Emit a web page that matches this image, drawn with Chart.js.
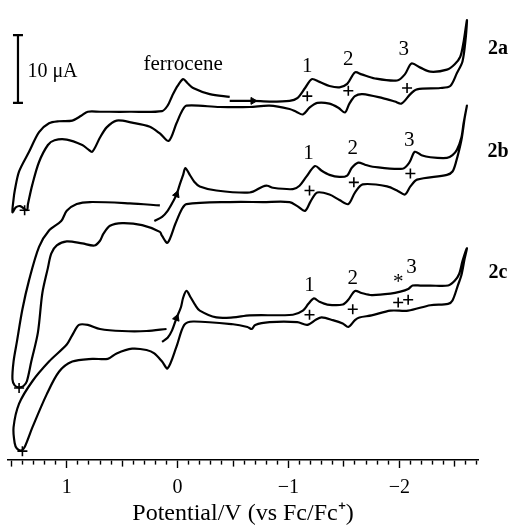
<!DOCTYPE html>
<html>
<head>
<meta charset="utf-8">
<script src="https://cdn.jsdelivr.net/npm/chart.js@4"></script>
<style>
  body { margin: 0; background: #fff; }
  #wrap { width: 510px; height: 526px; }
</style>
</head>
<body>
<div id="wrap"><canvas id="cv"></canvas></div>
<script>
// potential in V vs Fc/Fc+, current in uA (the three scans are stacked with an offset)
var potential2a = [-0.47,-0.68,-0.83,-1.01,-1.08,-1.15,-1.21,-1.28,-1.37,-1.46,-1.53,-1.60,-1.66,-1.78,-1.98,-2.05,-2.11,-2.19,-2.28,-2.43,-2.50,-2.55,-2.58,-2.61,
  -2.60,-2.57,-2.52,-2.46,-2.37,-2.16,-2.10,-2.02,-1.96,-1.85,-1.67,-1.60,-1.55,-1.51,-1.45,-1.37,-1.26,-1.19,-1.13,-1.07,-1.01,-0.83,-0.65,-0.38,-0.08,-0.04,0.01,0.08,0.16,0.25,0.41,0.55,0.64,0.70,0.77,0.81,0.86,1.00,1.11,1.17,1.25,1.31,1.35,1.36,
  1.42,1.46,1.49,1.48,1.47,1.43,1.34,1.25,1.16,1.07,0.95,0.87,0.81,0.70,0.43,0.14,0.09,0.05,0.00,-0.05,-0.09,-0.14,-0.29,-0.47];
var current2a = [52.9,52.9,52.8,52.9,53.3,54.8,56.1,55.7,55.1,54.9,55.4,57.1,56.8,56.2,55.9,56.8,58.4,57.8,57.2,57.5,58.3,59.4,61.6,64.8,
  62.3,58.7,57.0,55.1,54.8,54.6,53.9,52.5,52.8,53.3,53.9,53.6,52.5,51.2,51.9,52.5,52.6,51.9,50.9,51.3,51.7,52.2,52.0,52.0,52.2,51.4,49.6,47.0,48.1,49.1,49.7,50.0,49.0,47.5,45.4,45.8,46.4,47.2,47.1,46.4,43.9,40.6,37.7,36.8,
  37.4,37.2,36.5,38.4,39.6,42.5,45.4,48.3,49.6,49.9,50.0,50.7,51.3,51.3,51.3,51.4,52.2,53.6,55.1,56.1,55.5,54.8,53.9,53.5];

var potential2b = [0.21,0.14,0.09,0.05,0.01,-0.02,-0.05,-0.07,-0.11,-0.15,-0.20,-0.35,-0.65,-0.77,-0.81,-0.86,-1.04,-1.10,-1.16,-1.24,-1.30,-1.37,-1.46,-1.53,-1.57,-1.63,-1.69,-1.76,-2.03,-2.09,-2.14,-2.20,-2.28,-2.43,-2.48,-2.52,-2.56,-2.58,-2.61,
  -2.59,-2.56,-2.51,-2.48,-2.43,-2.16,-2.10,-2.05,-1.99,-1.89,-1.67,-1.60,-1.54,-1.46,-1.37,-1.26,-1.20,-1.15,-1.08,-1.01,-0.77,-0.47,-0.08,-0.04,0.02,0.09,0.14,0.16,0.32,0.50,0.61,0.67,0.70,0.75,0.86,1.00,1.09,1.14,1.17,1.22,1.26,1.32,1.36,1.39,
  1.43,1.47,1.49,1.48,1.45,1.40,1.34,1.25,1.16,1.05,1.00,0.91,0.79,0.43,0.16];
var current2b = [35.2,35.8,36.7,37.8,39.1,40.6,42.0,43.0,42.0,41.0,40.3,39.7,39.4,40.3,40.4,40.1,39.9,40.4,41.7,43.3,42.6,42.0,41.7,41.9,43.0,43.8,43.5,43.2,42.9,43.8,45.4,44.9,44.6,44.5,44.9,45.7,47.5,49.6,52.2,
  50.4,47.1,43.8,42.5,42.0,41.3,40.3,39.1,39.6,40.3,40.6,39.4,37.7,38.3,39.1,39.4,38.1,36.7,37.4,38.0,38.0,38.0,37.7,37.0,34.8,32.0,33.0,33.6,34.6,34.9,34.5,33.3,32.3,31.6,31.9,32.2,31.6,30.4,28.3,24.6,18.8,14.5,11.6,10.9,
  10.7,11.0,11.9,14.5,17.4,22.2,26.5,31.4,33.8,35.2,36.7,37.7,38.0,37.8,37.5];

var potential2c = [0.14,0.09,0.05,0.01,-0.03,-0.05,-0.08,-0.12,-0.16,-0.20,-0.35,-0.50,-0.65,-1.04,-1.13,-1.18,-1.23,-1.28,-1.35,-1.49,-1.54,-1.60,-1.66,-1.75,-1.92,-2.01,-2.08,-2.12,-2.19,-2.28,-2.44,-2.50,-2.54,-2.57,-2.61,
  -2.59,-2.56,-2.53,-2.48,-2.44,-2.28,-2.08,-1.92,-1.75,-1.64,-1.60,-1.54,-1.49,-1.40,-1.30,-1.25,-1.17,-1.08,-0.83,-0.70,-0.67,-0.63,-0.50,-0.14,-0.06,0.01,0.09,0.14,0.21,0.28,0.41,0.55,0.63,0.77,0.95,1.07,1.18,1.31,1.38,
  1.41,1.45,1.47,1.48,1.43,1.31,1.16,1.00,0.95,0.89,0.81,0.70,0.50,0.28,0.10];
var current2c = [17.4,18.0,19.1,20.9,22.5,23.9,24.9,23.9,22.8,22.0,21.0,21.0,21.3,21.4,22.0,23.0,23.8,23.3,22.9,22.9,23.6,24.9,24.6,24.3,24.5,24.8,25.2,25.7,25.7,25.7,25.7,26.4,27.4,29.3,31.2,
  29.7,27.2,25.8,23.5,23.0,22.8,22.0,22.0,21.3,21.0,20.6,19.6,20.1,20.6,21.0,20.7,19.9,20.3,20.3,19.9,19.3,19.6,20.0,20.4,19.9,16.7,13.5,14.5,15.7,16.2,16.4,15.7,14.9,14.9,14.5,13.0,9.7,4.8,1.9,
  1.4,1.7,2.5,4.8,8.3,11.6,14.5,17.0,18.4,19.9,19.9,19.3,19.0,19.0,19.3];

// "+" marks (half-wave potentials and switching points)
var markPotential = [-1.17,-1.54,-2.07,1.38, -1.19,-1.59,-2.10,1.43, -1.19,-1.58,-1.99,-2.08,1.40];
var markCurrent   = [53.6,54.4,54.8,36.8, 39.7,40.9,42.2,10.6, 21.4,22.2,23.2,23.6,1.3];

// scan direction arrows
var arrowPotential = [-0.68, 0.01, 0.01];
var arrowCurrent   = [52.9, 39.1, 20.9];
var arrowAngle     = [90, 20, 20];

// 10 uA scale bar
var barPotential = [1.44, 1.44];
var barCurrent   = [52.6, 62.6];

var labelText      = ['ferrocene','10 \u03bcA','1','2','3','1','2','3','1','2','3','*','2a','2b','2c'];
var labelPotential = [-0.05, 1.355, -1.17,-1.54,-2.04, -1.18,-1.58,-2.09, -1.19,-1.58,-2.11,-1.99, -2.89,-2.89,-2.89];
var labelCurrent   = [58.3, 57.2, 58.0,59.0,60.4, 45.2,45.9,47.1, 25.7,26.8,28.3,26.1, 60.6,45.4,27.5];

var tickValues = [1, 0, -1, -2];
var tickLabels = ['1', '0', '\u22121', '\u22122'];

function pts(xs, ys) {
  return xs.map(function(x, i) { return {x: x, y: ys[i]}; });
}

var serif = '"Liberation Serif", "Times New Roman", serif';

var textPlugin = {
  id: 'labels',
  afterDatasetsDraw: function(chart) {
    var ctx = chart.ctx, xs = chart.scales.x, ys = chart.scales.y;
    ctx.save();
    ctx.fillStyle = '#000';
    ctx.textBaseline = 'middle';
    labelText.forEach(function(t, i) {
      var bold = t.charAt(0) === '2' && t.length === 2;
      var scaleBar = t.indexOf('\u03bcA') > 0;
      ctx.font = (bold ? 'bold 20px ' : scaleBar ? '20px ' : '21px ') + serif;
      ctx.textAlign = scaleBar ? 'left' : 'center';
      ctx.fillText(t, xs.getPixelForValue(labelPotential[i]), ys.getPixelForValue(labelCurrent[i]));
    });
    ctx.restore();
  }
};

function curve(xs, ys) {
  return {
    data: pts(xs, ys),
    showLine: true,
    borderColor: '#000',
    borderWidth: 2.2,
    pointRadius: 0,
    tension: 0.3,
    fill: false
  };
}

var ctx = document.getElementById('cv').getContext('2d');
var myChart = new Chart(ctx, {
  type: 'scatter',
  data: {
    datasets: [
      curve(potential2a, current2a),
      curve(potential2b, current2b),
      curve(potential2c, current2c),
      {
        data: pts(markPotential, markCurrent),
        pointStyle: 'cross',
        pointRadius: 5,
        pointBorderWidth: 1.6,
        borderColor: '#000',
        showLine: false
      },
      {
        data: pts(arrowPotential, arrowCurrent),
        pointStyle: 'triangle',
        pointRadius: 4,
        pointRotation: arrowAngle,
        backgroundColor: '#000',
        borderColor: '#000',
        pointBorderWidth: 1,
        showLine: false
      },
      {
        data: pts(barPotential, barCurrent),
        showLine: true,
        borderColor: '#000',
        borderWidth: 2.2,
        pointStyle: 'line',
        pointRadius: 5,
        pointBorderWidth: 2.2,
        pointBorderColor: '#000'
      }
    ]
  },
  options: {
    responsive: true,
    maintainAspectRatio: false,
    animation: false,
    layout: {
      padding: { left: 8, right: 32, top: 0, bottom: 0 }
    },
    scales: {
      x: {
        type: 'linear',
        reverse: true,
        min: -2.71,
        max: 1.53,
        afterFit: function(scale) { scale.height = 66; },
        border: { display: true, color: '#000', width: 1.6 },
        grid: {
          drawOnChartArea: false,
          drawTicks: true,
          tickLength: 8,
          tickColor: '#000',
          tickWidth: 1.4,
          tickBorderDash: function(c) {
            var v = c.tick ? c.tick.value : 0;
            if (Math.abs(v - Math.round(v)) < 1e-6) return [];
            if (Math.abs(v * 2 - Math.round(v * 2)) < 1e-6) return [6, 20];
            return [4, 20];
          }
        },
        ticks: {
          stepSize: 0.1,
          autoSkip: false,
          includeBounds: false,
          maxRotation: 0,
          padding: 8,
          color: '#000',
          font: { family: serif, size: 20 },
          callback: function(val) {
            for (var i = 0; i < tickValues.length; i++) {
              if (Math.abs(val - tickValues[i]) < 1e-6) return tickLabels[i];
            }
            return '';
          }
        },
        title: {
          display: true,
          text: 'Potential/V (vs Fc/Fc\u207a)',
          color: '#000',
          font: { family: serif, size: 24, lineHeight: 1 },
          padding: { top: 0, bottom: 0 }
        }
      },
      y: {
        display: false,
        min: 0,
        max: 66.7
      }
    },
    plugins: {
      legend: { display: false },
      tooltip: { enabled: false }
    }
  },
  plugins: [textPlugin]
});
</script>
</body>
</html>
